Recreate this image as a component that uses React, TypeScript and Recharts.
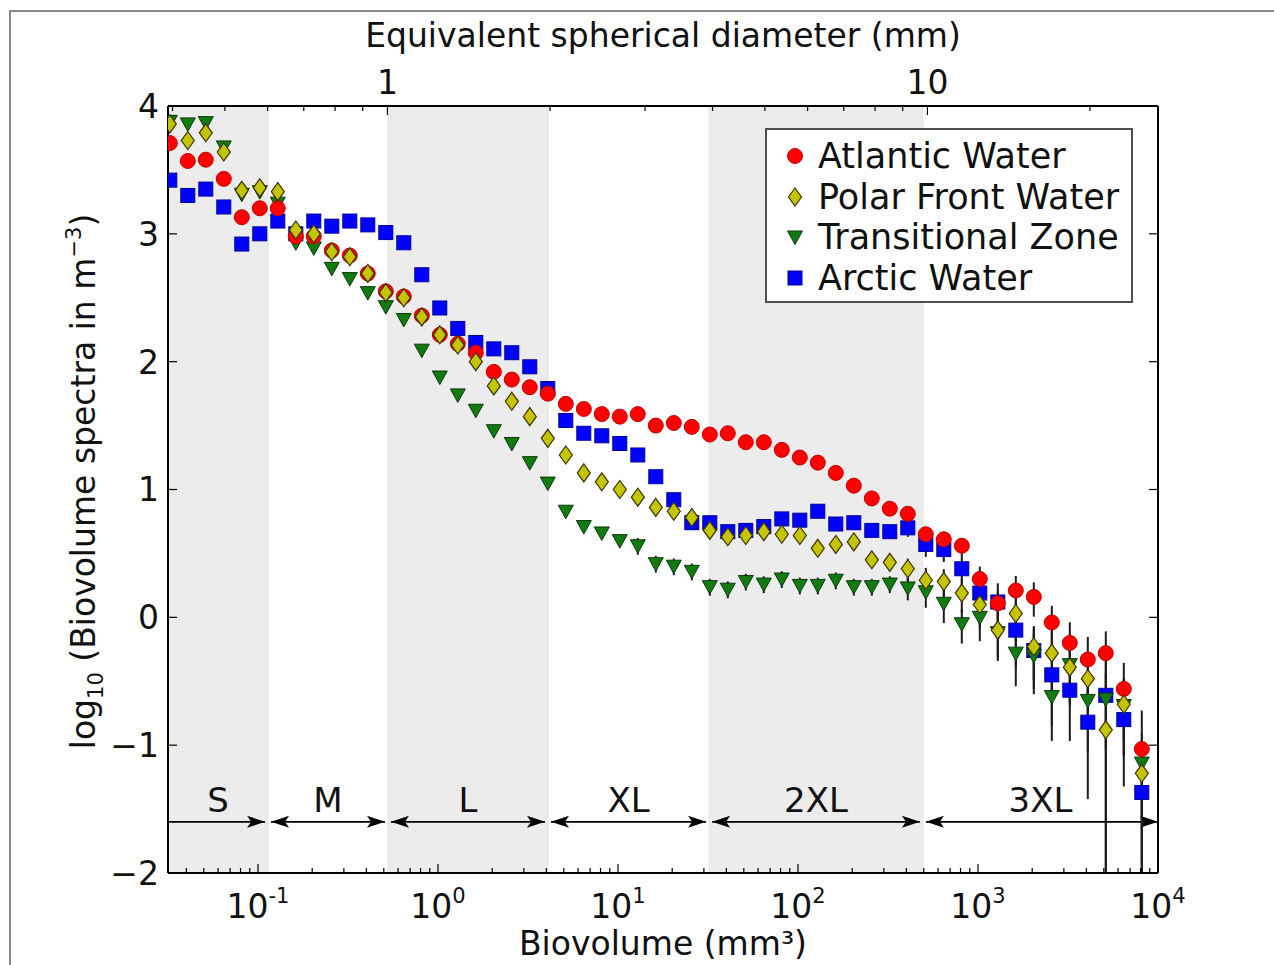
import React from "react";
import {
  ScatterChart,
  Scatter,
  XAxis,
  YAxis,
  ErrorBar,
  ReferenceArea,
  ReferenceLine,
  Legend,
  Label,
} from "recharts";

const FONT = "'DejaVu Sans', 'Liberation Sans', sans-serif";

// ─── Data ──────────────────────────────────────────────────────

// bin centres, log10 of biovolume (mm3)
const binLogVolume = [
  -1.49, -1.39, -1.29, -1.19, -1.09, -0.99, -0.89, -0.79, -0.69, -0.59,
  -0.49, -0.39, -0.29, -0.19, -0.09, 0.01, 0.11, 0.21, 0.31, 0.41,
  0.51, 0.61, 0.71, 0.81, 0.91, 1.01, 1.11, 1.21, 1.31, 1.41,
  1.51, 1.61, 1.71, 1.81, 1.91, 2.01, 2.11, 2.21, 2.31, 2.41,
  2.51, 2.61, 2.71, 2.81, 2.91, 3.01, 3.11, 3.21, 3.31, 3.41,
  3.51, 3.61, 3.71, 3.81, 3.91,
];

// log10 biovolume spectra (m-3)
const atlantic = [
  3.71, 3.57, 3.58, 3.43, 3.13, 3.2, 3.2, 2.98, 2.98, 2.87,
  2.83, 2.69, 2.55, 2.51, 2.36, 2.21, 2.14, 2.07, 1.92, 1.86,
  1.8, 1.75, 1.67, 1.63, 1.59, 1.57, 1.59, 1.5, 1.52, 1.49,
  1.43, 1.44, 1.37, 1.37, 1.31, 1.25, 1.21, 1.13, 1.03, 0.93,
  0.85, 0.81, 0.65, 0.61, 0.56, 0.3, 0.11, 0.21, 0.16, -0.04,
  -0.2, -0.33, -0.28, -0.56, -1.03,
];
const polarFront = [
  3.86, 3.73, 3.79, 3.64, 3.34, 3.36, 3.33, 3.03, 3.0, 2.86,
  2.82, 2.69, 2.54, 2.5, 2.35, 2.21, 2.13, 2.0, 1.81, 1.69,
  1.57, 1.4, 1.27, 1.13, 1.06, 1.0, 0.94, 0.86, 0.83, 0.78,
  0.68, 0.63, 0.64, 0.67, 0.65, 0.64, 0.54, 0.57, 0.59, 0.45,
  0.43, 0.38, 0.29, 0.28, 0.19, 0.1, -0.1, 0.03, -0.23, -0.28,
  -0.39, -0.48, -0.88, -0.68, -1.22,
];
const transitional = [
  3.88, 3.86, 3.87, 3.68, 3.31, 3.33, 3.24, 2.93, 2.89, 2.73,
  2.65, 2.54, 2.43, 2.33, 2.09, 1.88, 1.74, 1.62, 1.46, 1.36,
  1.21, 1.05, 0.83, 0.71, 0.66, 0.6, 0.56, 0.42, 0.4, 0.36,
  0.24, 0.22, 0.28, 0.26, 0.3, 0.25, 0.25, 0.29, 0.24, 0.24,
  0.26, 0.23, 0.2, 0.11, -0.05, 0.0, -0.12, -0.28, -0.3, -0.62,
  -0.37, -0.65, -0.64, -0.69, -1.14,
];
const arctic = [
  3.42, 3.3, 3.35, 3.21, 2.92, 3.0, 3.1, 3.0, 3.1, 3.06,
  3.1, 3.07, 3.01, 2.93, 2.68, 2.42, 2.26, 2.15, 2.1, 2.07,
  1.96, 1.79, 1.54, 1.44, 1.42, 1.36, 1.27, 1.1, 0.92, 0.74,
  0.74, 0.67, 0.68, 0.71, 0.77, 0.76, 0.83, 0.73, 0.74, 0.68,
  0.67, 0.7, 0.57, 0.53, 0.38, 0.19, 0.12, -0.1, -0.26, -0.45,
  -0.57, -0.82, -0.61, -0.8, -1.37,
];

// relative error (sd / mean) from bin 26 onwards
const ERR_START = 26;
const atlanticRelErr = [
  0.05, 0.05, 0.05, 0.05, 0.08, 0.08, 0.08, 0.08, 0.08, 0.08,
  0.08, 0.08, 0.08, 0.08, 0.08, 0.1, 0.12, 0.15, 0.15, 0.25,
  0.25, 0.3, 0.3, 0.35, 0.45, 0.5, 0.48, 0.6, 1.0,
];
const polarFrontRelErr = [
  0.12, 0.12, 0.12, 0.12, 0.12, 0.12, 0.12, 0.12, 0.12, 0.12,
  0.12, 0.12, 0.12, 0.12, 0.12, 0.2, 0.25, 0.25, 0.3, 0.35,
  0.4, 0.4, 0.45, 0.5, 0.5, 0.55, 1.0, 0.6, 0.8,
];
const transitionalRelErr = [
  0.15, 0.15, 0.15, 0.15, 0.15, 0.15, 0.15, 0.15, 0.15, 0.15,
  0.15, 0.15, 0.15, 0.15, 0.15, 0.2, 0.25, 0.3, 0.3, 0.35,
  0.4, 0.45, 0.5, 0.55, 0.5, 0.6, 0.6, 0.6, 0.7,
];
const arcticRelErr = [
  0.1, 0.1, 0.1, 0.1, 0.1, 0.1, 0.1, 0.1, 0.1, 0.1,
  0.1, 0.1, 0.1, 0.1, 0.1, 0.15, 0.2, 0.2, 0.3, 0.4,
  0.4, 0.5, 0.5, 0.6, 0.6, 0.75, 1.0, 0.7, 0.9,
];

// size classes, edges in log10 biovolume
const classNames = ["S", "M", "L", "XL", "2XL", "3XL"];
const classEdges = [-1.5, -0.944, -0.278, 0.611, 1.506, 2.694, 4];
const shadedClasses = [0, 2, 4];
const classArrowLevel = -1.6;

// axis ticks
const volumeDecades = [0.01, 0.1, 1, 10, 100, 1000, 10000];
const minorSteps = [1, 2, 3, 4, 5, 6, 7, 8, 9];
const diameterTicks = [0.4, 0.5, 0.6, 0.7, 0.8, 0.9, 1, 2, 3, 4, 5, 6, 7, 8, 9, 10, 20];
const diameterLabels = [1, 10];
const yTicks = [-2, -1, 0, 1, 2, 3, 4];

const X_DOMAIN: [number, number] = [-1.5, 4];
const Y_DOMAIN: [number, number] = [-2, 4];

const bottomTicks = volumeDecades
  .flatMap((d) => minorSteps.map((m) => Math.log10(d * m)))
  .filter((v) => v >= X_DOMAIN[0] - 1e-9 && v <= X_DOMAIN[1] + 1e-9);

// equivalent spherical diameter (mm) -> log10 biovolume (mm3)
const diameterToLogVolume = (d: number) => Math.log10((Math.PI / 6) * d * d * d);

function toRows(values: number[], rel: number[]) {
  return values.map((y, i) => {
    const r = rel[i - ERR_START] ?? 0;
    const hi = Math.log10(1 + r);
    // an sd larger than the mean runs off the bottom of the axis
    const lo = r >= 1 ? y - Y_DOMAIN[0] : Math.min(-Math.log10(1 - r), y - Y_DOMAIN[0]);
    return { x: binLogVolume[i], y, err: [lo, hi] };
  });
}

// ─── Markers ───────────────────────────────────────────────────

const RED = "#ff0000";
const YELLOW = "#c4c400";
const GREEN = "#117a11";
const BLUE = "#0000ff";

function CircleMark({ cx, cy }: any) {
  return <circle cx={cx} cy={cy} r={7.5} fill={RED} stroke="#c40000" strokeWidth={1} />;
}
function DiamondMark({ cx, cy }: any) {
  return (
    <polygon
      points={`${cx},${cy - 9} ${cx + 6.5},${cy} ${cx},${cy + 9} ${cx - 6.5},${cy}`}
      fill={YELLOW}
      stroke="#3b3300"
      strokeWidth={1.2}
    />
  );
}
function TriangleMark({ cx, cy }: any) {
  return (
    <polygon
      points={`${cx - 7.5},${cy - 6} ${cx + 7.5},${cy - 6} ${cx},${cy + 7.5}`}
      fill={GREEN}
      stroke="#0a3a0a"
      strokeWidth={1}
    />
  );
}
function SquareMark({ cx, cy }: any) {
  return <rect x={cx - 7} y={cy - 7} width={14} height={14} fill={BLUE} stroke="#00009a" strokeWidth={1} />;
}

// drawing order: bottom to top
const series = [
  { name: "Arctic Water", rows: toRows(arctic, arcticRelErr), shape: SquareMark },
  { name: "Transitional Zone", rows: toRows(transitional, transitionalRelErr), shape: TriangleMark },
  { name: "Atlantic Water", rows: toRows(atlantic, atlanticRelErr), shape: CircleMark },
  { name: "Polar Front Water", rows: toRows(polarFront, polarFrontRelErr), shape: DiamondMark },
];

const legendOrder = [
  { name: "Atlantic Water", shape: CircleMark },
  { name: "Polar Front Water", shape: DiamondMark },
  { name: "Transitional Zone", shape: TriangleMark },
  { name: "Arctic Water", shape: SquareMark },
];

// ─── Axis ticks ────────────────────────────────────────────────

function BottomTick({ x, y, payload }: any) {
  const v = payload.value;
  const major = Math.abs(v - Math.round(v)) < 1e-6;
  return (
    <g>
      <line x1={x} x2={x} y1={y} y2={y - (major ? 9 : 5)} stroke="#000" strokeWidth={1.2} />
      {major && (
        <text x={x} y={y + 45} textAnchor="middle" fontSize={33} fontFamily={FONT} fill="#111">
          10
          <tspan dy={-15} fontSize={21}>
            {String(Math.round(v))}
          </tspan>
        </text>
      )}
    </g>
  );
}

// top (diameter) ticks hang from the upper frame edge
function diameterTick(d: number) {
  const labelled = diameterLabels.includes(d);
  return (props: any) => {
    const { x1, y1, y2 } = props;
    const top = Math.min(y1, y2);
    return (
      <g>
        <line x1={x1} x2={x1} y1={top} y2={top + (labelled ? 9 : 5)} stroke="#000" strokeWidth={1.2} />
        {labelled && (
          <text x={x1} y={top - 12} textAnchor="middle" fontSize={33} fontFamily={FONT} fill="#111">
            {d}
          </text>
        )}
      </g>
    );
  };
}

function LeftTick({ x, y, payload }: any) {
  const v = payload.value;
  return (
    <g>
      <line x1={x} x2={x + 9} y1={y} y2={y} stroke="#000" strokeWidth={1.2} />
      <text x={x - 9} y={y} dy="0.36em" textAnchor="end" fontSize={33} fontFamily={FONT} fill="#111">
        {v < 0 ? `\u2212${Math.abs(v)}` : String(v)}
      </text>
    </g>
  );
}

function RightTick({ x, y }: any) {
  return <line x1={x} x2={x - 9} y1={y} y2={y} stroke="#000" strokeWidth={1.2} />;
}

// ─── Size class arrows ─────────────────────────────────────────

function classArrow(label: string, leftHead: boolean, rightGap: number) {
  return (props: any) => {
    const { x1, x2, y1 } = props;
    const a = x1 + (leftHead ? 3 : 0);
    const b = x2 - rightGap;
    const L = 18;
    const W = 6;
    return (
      <g>
        <line x1={a} x2={b} y1={y1} y2={y1} stroke="#000" strokeWidth={1.6} />
        <polygon points={`${b},${y1} ${b - L},${y1 - W} ${b - L + 4},${y1} ${b - L},${y1 + W}`} fill="#000" />
        {leftHead && (
          <polygon points={`${a},${y1} ${a + L},${y1 - W} ${a + L - 4},${y1} ${a + L},${y1 + W}`} fill="#000" />
        )}
        <text x={(x1 + x2) / 2} y={y1 - 10} textAnchor="middle" fontSize={34} fontFamily={FONT} fill="#111">
          {label}
        </text>
      </g>
    );
  };
}

// ─── Legend ────────────────────────────────────────────────────

function LegendBox() {
  return (
    <div
      style={{
        boxSizing: "border-box",
        width: 368,
        height: 175,
        border: "2px solid #505050",
        background: "#fff",
        paddingTop: 6,
        fontFamily: FONT,
      }}
    >
      {legendOrder.map((s) => {
        const Shape = s.shape;
        return (
          <div key={s.name} style={{ display: "flex", alignItems: "center", height: 40.5 }}>
            <svg width={24} height={24} style={{ marginLeft: 16, marginRight: 11 }}>
              <Shape cx={12} cy={12} />
            </svg>
            <span style={{ fontSize: 35, color: "#111", whiteSpace: "nowrap" }}>{s.name}</span>
          </div>
        );
      })}
    </div>
  );
}

// ─── Chart ─────────────────────────────────────────────────────

export default function App() {
  return (
    <div style={{ position: "relative", width: 1274, height: 965, background: "#fff", overflow: "hidden" }}>
      <style>{"body{margin:0}"}</style>
      <div
        style={{
          position: "absolute",
          left: 9,
          top: 10,
          width: 1300,
          height: 1000,
          borderTop: "2px solid #8a8a8a",
          borderLeft: "2px solid #8a8a8a",
        }}
      />
      <ScatterChart width={1274} height={965} margin={{ top: 105, right: 115, bottom: 91, left: 167 }}>
        {classNames.map((c, i) =>
          shadedClasses.includes(i) ? (
            <ReferenceArea
              key={`band-${c}`}
              xAxisId="bottom"
              yAxisId="left"
              x1={classEdges[i]}
              x2={classEdges[i + 1]}
              fill="#ececec"
              fillOpacity={1}
              stroke="#e2e2e2"
              strokeWidth={1}
            />
          ) : null
        )}

        <XAxis
          xAxisId="bottom"
          type="number"
          dataKey="x"
          domain={X_DOMAIN}
          allowDataOverflow
          ticks={bottomTicks}
          interval={0}
          tick={<BottomTick />}
          tickLine={false}
          tickSize={0}
          tickMargin={0}
          height={1}
          axisLine={{ stroke: "#000", strokeWidth: 2 }}
        >
          <Label
            content={({ viewBox }: any) => (
              <text
                x={viewBox.x + viewBox.width / 2}
                y={viewBox.y + 82}
                textAnchor="middle"
                fontSize={33}
                fontFamily={FONT}
                fill="#111"
              >
                Biovolume (mm³)
              </text>
            )}
          />
        </XAxis>
        <XAxis
          xAxisId="top"
          orientation="top"
          type="number"
          domain={X_DOMAIN}
          allowDataOverflow
          ticks={X_DOMAIN}
          tick={false}
          tickLine={false}
          height={1}
          axisLine={{ stroke: "#000", strokeWidth: 2 }}
        >
          <Label
            content={({ viewBox }: any) => (
              <text
                x={viewBox.x + viewBox.width / 2}
                y={viewBox.y + viewBox.height - 59}
                textAnchor="middle"
                fontSize={33}
                fontFamily={FONT}
                fill="#111"
              >
                Equivalent spherical diameter (mm)
              </text>
            )}
          />
        </XAxis>
        <YAxis
          yAxisId="left"
          type="number"
          dataKey="y"
          domain={Y_DOMAIN}
          allowDataOverflow
          ticks={yTicks}
          interval={0}
          tick={<LeftTick />}
          tickLine={false}
          tickSize={0}
          tickMargin={0}
          width={1}
          axisLine={{ stroke: "#000", strokeWidth: 2 }}
        >
          <Label
            content={({ viewBox }: any) => {
              const cx = viewBox.x + viewBox.width - 85;
              const cy = viewBox.y + viewBox.height / 2 - 8;
              return (
                <text
                  x={cx}
                  y={cy}
                  transform={`rotate(-90 ${cx} ${cy})`}
                  textAnchor="middle"
                  dy="0.35em"
                  fontSize={33}
                  fontFamily={FONT}
                  fill="#111"
                >
                  log
                  <tspan fontSize={21} dy={8}>
                    10
                  </tspan>
                  <tspan dy={-8}> (Biovolume spectra in m</tspan>
                  <tspan fontSize={21} dy={-14}>
                    {"\u22123"}
                  </tspan>
                  <tspan dy={14}>)</tspan>
                </text>
              );
            }}
          />
        </YAxis>
        <YAxis
          yAxisId="right"
          orientation="right"
          type="number"
          domain={Y_DOMAIN}
          allowDataOverflow
          ticks={yTicks}
          interval={0}
          tick={<RightTick />}
          tickLine={false}
          tickSize={0}
          tickMargin={0}
          width={1}
          axisLine={{ stroke: "#000", strokeWidth: 2 }}
        />

        {diameterTicks.map((d) => (
          <ReferenceLine
            key={`esd-${d}`}
            xAxisId="bottom"
            yAxisId="left"
            x={diameterToLogVolume(d)}
            shape={diameterTick(d)}
          />
        ))}

        {classNames.map((c, i) => (
          <ReferenceLine
            key={`arrow-${c}`}
            xAxisId="bottom"
            yAxisId="left"
            segment={[
              { x: classEdges[i], y: classArrowLevel },
              { x: classEdges[i + 1], y: classArrowLevel },
            ]}
            shape={classArrow(c, i > 0, i === classNames.length - 1 ? 0 : 3)}
          />
        ))}

        {series.map((s) => (
          <Scatter
            key={s.name}
            name={s.name}
            data={s.rows}
            xAxisId="bottom"
            yAxisId="left"
            shape={s.shape}
            isAnimationActive={false}
          >
            <ErrorBar dataKey="err" direction="y" width={0} stroke="#1c1c1c" strokeWidth={2} />
          </Scatter>
        ))}

        <Legend
          layout="vertical"
          align="center"
          verticalAlign="middle"
          content={<LegendBox />}
          wrapperStyle={{ left: 765, top: 128, width: 368, height: 175 }}
        />
      </ScatterChart>
    </div>
  );
}
